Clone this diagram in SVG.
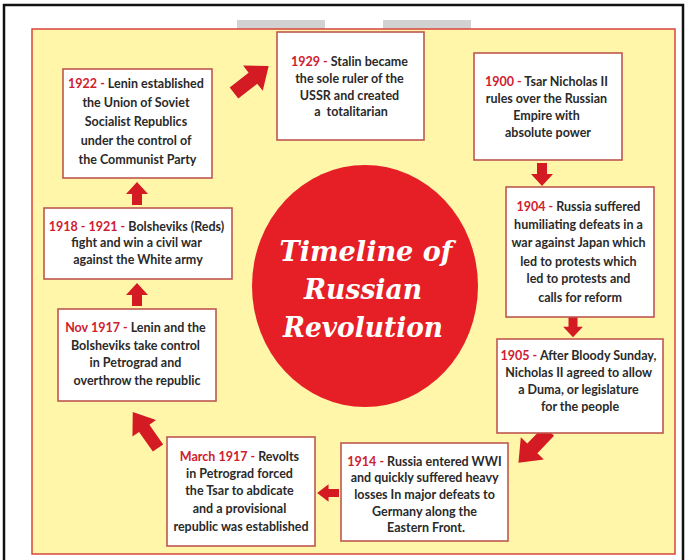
<svg xmlns="http://www.w3.org/2000/svg" xmlns:xlink="http://www.w3.org/1999/xlink" width="694" height="560" viewBox="0 0 694 560">
  <style>
    .frame { fill: #ffffff; stroke: #111111; stroke-width: 2.5; }
    .tab { fill: #d2d2d2; }
    .panel { fill: #fff6aa; stroke: #d9443c; stroke-width: 1.5; }
    .box { fill: #ffffff; stroke: #c0574f; stroke-width: 1.6; }
    .txt { font-family: Lato, "Liberation Sans", sans-serif; font-weight: 700; font-size: 12.5px; fill: #2a2a2a; text-anchor: middle; }
    .yr { fill: #d0202f; }
    .arrow { fill: #d41a22; }
    .title { font-family: "DejaVu Serif", "Liberation Serif", serif; font-weight: 700; font-style: italic; font-size: 27px; fill: #ffffff; text-anchor: middle; }
  </style>
  <defs>
    <!-- block arrows pointing along +x, tail at the origin -->
    <path id="arrowS" d="M0,-5 L11,-5 L11,-11 L23,0 L11,11 L11,5 L0,5 Z"/>
    <path id="arrowL" d="M0,-7 L24,-7 L24,-16 L44,0 L24,16 L24,7 L0,7 Z"/>
  </defs>

  <!-- page frame, tabs and background panel -->
  <rect class="frame" x="4" y="5" width="679" height="570"/>
  <rect class="tab" x="237" y="20" width="88" height="12"/>
  <rect class="tab" x="383" y="20" width="88" height="12"/>
  <rect class="panel" x="32" y="29" width="643" height="525"/>

  <!-- central title -->
  <g id="title">
    <ellipse cx="365" cy="286" rx="113" ry="121" fill="#e61f27"/>
    <text class="title" x="366" y="261" textLength="173" lengthAdjust="spacingAndGlyphs">Timeline of</text>
    <text class="title" x="363" y="299" textLength="118" lengthAdjust="spacingAndGlyphs">Russian</text>
    <text class="title" x="363" y="337" textLength="160" lengthAdjust="spacingAndGlyphs">Revolution</text>
  </g>

  <!-- connectors -->
  <g id="connectors" class="arrow">
    <use xlink:href="#arrowS" transform="translate(137,205) rotate(-90)"/>
    <use xlink:href="#arrowS" transform="translate(137,306) rotate(-90)"/>
    <use xlink:href="#arrowL" transform="translate(234,93) rotate(-38)"/>
    <use xlink:href="#arrowS" transform="translate(542,163) rotate(90)"/>
    <use xlink:href="#arrowS" transform="translate(573,317) rotate(90) scale(0.88,0.9)"/>
    <use xlink:href="#arrowL" transform="translate(549,431) rotate(134)"/>
    <use xlink:href="#arrowS" transform="translate(339,493) rotate(180) scale(0.95,0.8)"/>
    <use xlink:href="#arrowL" transform="translate(158,448) rotate(-125) scale(1,0.9)"/>
  </g>

  <g id="n1900">
    <rect class="box" x="474" y="53" width="148" height="107"/>
    <text class="txt">
      <tspan x="548" y="86"><tspan class="yr">1900 - </tspan>Tsar Nicholas II</tspan>
      <tspan x="548" y="103">rules over the Russian</tspan>
      <tspan x="548" y="120">Empire with</tspan>
      <tspan x="548" y="137">absolute power</tspan>
    </text>
  </g>

  <g id="n1904">
    <rect class="box" x="506" y="187" width="148" height="130"/>
    <text class="txt">
      <tspan x="580" y="211"><tspan class="yr">1904 - </tspan>Russia suffered</tspan>
      <tspan x="580" y="229">humiliating defeats in a</tspan>
      <tspan x="580" y="247">war against Japan which</tspan>
      <tspan x="580" y="266">led to protests which</tspan>
      <tspan x="580" y="283">led to protests and</tspan>
      <tspan x="580" y="302">calls for reform</tspan>
    </text>
  </g>

  <g id="n1905">
    <rect class="box" x="497" y="339" width="166" height="94"/>
    <text class="txt">
      <tspan x="580" y="360"><tspan class="yr">1905 - </tspan>After Bloody Sunday,</tspan>
      <tspan x="580" y="377">Nicholas II agreed to allow</tspan>
      <tspan x="580" y="394">a Duma, or legislature</tspan>
      <tspan x="580" y="411">for the people</tspan>
    </text>
  </g>

  <g id="n1914">
    <rect class="box" x="341" y="443" width="167" height="98"/>
    <text class="txt">
      <tspan x="426" y="466"><tspan class="yr">1914 - </tspan>Russia entered WWI</tspan>
      <tspan x="426" y="482">and quickly suffered heavy</tspan>
      <tspan x="426" y="499">losses In major defeats to</tspan>
      <tspan x="426" y="516">Germany along the</tspan>
      <tspan x="426" y="532">Eastern Front.</tspan>
    </text>
  </g>

  <g id="n1917march">
    <rect class="box" x="167" y="437" width="148" height="109"/>
    <text class="txt">
      <tspan x="241" y="461"><tspan class="yr">March 1917 - </tspan>Revolts</tspan>
      <tspan x="241" y="478">in Petrograd forced</tspan>
      <tspan x="241" y="495">the Tsar to abdicate</tspan>
      <tspan x="241" y="513">and a provisional</tspan>
      <tspan x="241" y="531">republic was established</tspan>
    </text>
  </g>

  <g id="n1917nov">
    <rect class="box" x="58" y="309" width="158" height="92"/>
    <text class="txt">
      <tspan x="137" y="332"><tspan class="yr">Nov 1917 - </tspan>Lenin and the</tspan>
      <tspan x="137" y="350">Bolsheviks take control</tspan>
      <tspan x="137" y="367">in Petrograd and</tspan>
      <tspan x="137" y="385">overthrow the republic</tspan>
    </text>
  </g>

  <g id="n1918">
    <rect class="box" x="44" y="208" width="188" height="71"/>
    <text class="txt">
      <tspan x="138" y="231"><tspan class="yr">1918 - 1921 - </tspan>Bolsheviks (Reds)</tspan>
      <tspan x="138" y="247">fight and win a civil war</tspan>
      <tspan x="138" y="264">against the White army</tspan>
    </text>
  </g>

  <g id="n1922">
    <rect class="box" x="63" y="69" width="149" height="109"/>
    <text class="txt">
      <tspan x="137.5" y="88"><tspan class="yr">1922 - </tspan>Lenin established</tspan>
      <tspan x="137.5" y="107">the Union of Soviet</tspan>
      <tspan x="137.5" y="126">Socialist Republics</tspan>
      <tspan x="137.5" y="145">under the control of</tspan>
      <tspan x="137.5" y="164">the Communist Party</tspan>
    </text>
  </g>

  <g id="n1929">
    <rect class="box" x="277" y="32" width="147" height="108"/>
    <text class="txt">
      <tspan x="351" y="66"><tspan class="yr">1929 - </tspan>Stalin became</tspan>
      <tspan x="351" y="83">the sole ruler of the</tspan>
      <tspan x="351" y="100">USSR and created</tspan>
      <tspan x="351" y="116">a&#160; totalitarian</tspan>
    </text>
  </g>
</svg>
